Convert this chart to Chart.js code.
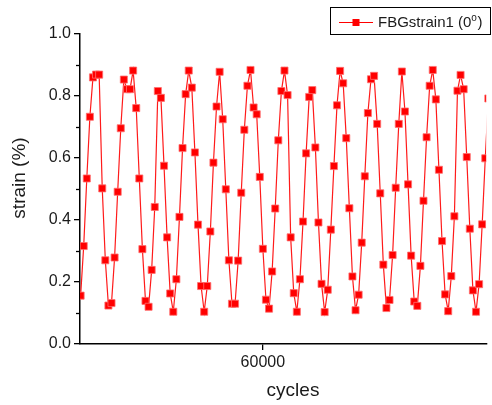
<!DOCTYPE html>
<html>
<head>
<meta charset="UTF-8">
<title>FBG strain vs cycles</title>
<script src="https://cdn.jsdelivr.net/npm/chart.js"></script>
<style>
  html, body { margin: 0; padding: 0; background: #fff; }
  #wrap { width: 492px; height: 405px; }
</style>
</head>
<body>
<div id="wrap"><canvas id="strainChart" width="492" height="405"></canvas></div>
<script>
// strain readings, one per sampled cycle starting at firstCycle
const firstCycle = 59941;
const strain = [
  0.156, 0.316, 0.534, 0.733, 0.860, 0.869, 0.869, 0.502, 0.270, 0.124,
  0.132, 0.279, 0.491, 0.696, 0.853, 0.822, 0.822, 0.882, 0.761, 0.534,
  0.306, 0.139, 0.120, 0.239, 0.442, 0.816, 0.794, 0.575, 0.344, 0.163,
  0.104, 0.209, 0.410, 0.632, 0.806, 0.882, 0.827, 0.618, 0.385, 0.187,
  0.104, 0.187, 0.363, 0.585, 0.766, 0.878, 0.725, 0.499, 0.270, 0.130,
  0.130, 0.269, 0.488, 0.691, 0.833, 0.884, 0.763, 0.741, 0.539, 0.307,
  0.143, 0.114, 0.234, 0.437, 0.657, 0.816, 0.882, 0.803, 0.344, 0.164,
  0.104, 0.209, 0.395, 0.615, 0.797, 0.819, 0.634, 0.392, 0.194, 0.103,
  0.175, 0.369, 0.574, 0.770, 0.881, 0.841, 0.664, 0.438, 0.218, 0.109,
  0.159, 0.327, 0.541, 0.745, 0.854, 0.865, 0.710, 0.486, 0.256, 0.116,
  0.142, 0.287, 0.504, 0.710, 0.879, 0.750, 0.515, 0.285, 0.137, 0.123,
  0.252, 0.462, 0.667, 0.833, 0.884, 0.789, 0.562, 0.332, 0.160, 0.106,
  0.219, 0.412, 0.817, 0.868, 0.822, 0.603, 0.372, 0.173, 0.104, 0.193,
  0.386, 0.599, 0.792
];
const cycles = strain.map((_, i) => firstCycle + i);

const xTicks = [60000];
const yTicks = [0, 0.2, 0.4, 0.6, 0.8, 1.0];
const yMinorTicks = [0.1, 0.3, 0.5, 0.7, 0.9];
const seriesLabel = ['FBGstrain1 (0', 'o', ')'];

const FONT = 'Arial, "Liberation Sans", sans-serif';
const RED = '#ff0000';

// minor ticks, axis titles and the boxed legend
const decorations = {
  id: 'decorations',
  afterDraw(chart) {
    const c = chart.ctx;
    const ys = chart.scales.y;
    const area = chart.chartArea;
    c.save();

    c.strokeStyle = '#000';
    c.lineWidth = 1.3;
    yMinorTicks.forEach(v => {
      const py = Math.round(ys.getPixelForValue(v)) + 0.5;
      c.beginPath();
      c.moveTo(area.left - 4, py);
      c.lineTo(area.left, py);
      c.stroke();
    });

    c.fillStyle = '#1a1a1a';
    c.font = '19px ' + FONT;
    c.textAlign = 'center';
    c.textBaseline = 'middle';
    c.save();
    c.translate(20, 178);
    c.rotate(-Math.PI / 2);
    c.fillText('strain (%)', 0, 0);
    c.restore();

    c.textBaseline = 'alphabetic';
    c.fillText('cycles', 293, 396);

    // legend
    c.lineWidth = 1;
    c.strokeStyle = '#000';
    c.strokeRect(330.5, 7.5, 160, 27);
    c.strokeStyle = RED;
    c.lineWidth = 1.2;
    c.beginPath();
    c.moveTo(339, 22.5);
    c.lineTo(373, 22.5);
    c.stroke();
    c.fillStyle = RED;
    c.fillRect(352.5, 19, 7, 7);

    c.fillStyle = '#1a1a1a';
    c.textAlign = 'left';
    c.font = '15px ' + FONT;
    let tx = 378;
    c.fillText(seriesLabel[0], tx, 27);
    tx += c.measureText(seriesLabel[0]).width;
    c.font = '10px ' + FONT;
    c.fillText(seriesLabel[1], tx, 21);
    tx += c.measureText(seriesLabel[1]).width + 0.5;
    c.font = '15px ' + FONT;
    c.fillText(seriesLabel[2], tx, 27);

    c.restore();
  }
};

new Chart(document.getElementById('strainChart'), {
  type: 'line',
  data: {
    datasets: [{
      label: 'FBGstrain1 (0°)',
      data: cycles.map((cyc, i) => ({ x: cyc, y: strain[i] })),
      borderColor: '#ff1a1a',
      borderWidth: 1.2,
      pointStyle: 'rect',
      pointRadius: 5,
      pointBackgroundColor: RED,
      pointBorderColor: '#ff6e6e',
      pointBorderWidth: 0.8,
      tension: 0
    }]
  },
  options: {
    responsive: false,
    animation: false,
    events: [],
    layout: { padding: { top: 34, right: 0, bottom: 0, left: 0 } },
    plugins: { legend: { display: false }, tooltip: { enabled: false } },
    scales: {
      x: {
        type: 'linear',
        min: 59940.8,
        max: 60072.3,
        afterBuildTicks: s => { s.ticks = xTicks.map(v => ({ value: v })); },
        afterFit: s => { s.height = 61; },
        grid: { drawOnChartArea: false, tickLength: 6, color: '#000', lineWidth: 1.3 },
        border: { color: '#000', width: 1.5 },
        ticks: {
          color: '#1a1a1a', padding: 3, maxRotation: 0,
          font: { family: FONT, size: 16 },
          callback: v => String(v)
        }
      },
      y: {
        min: 0,
        max: 1,
        afterBuildTicks: s => { s.ticks = yTicks.map(v => ({ value: v })); },
        afterFit: s => { s.width = 80; },
        grid: { drawOnChartArea: false, tickLength: 6, color: '#000', lineWidth: 1.3 },
        border: { color: '#000', width: 1.5 },
        ticks: {
          color: '#1a1a1a', padding: 3,
          font: { family: FONT, size: 16 },
          callback: v => v.toFixed(1)
        }
      }
    }
  },
  plugins: [decorations]
});
</script>
</body>
</html>
